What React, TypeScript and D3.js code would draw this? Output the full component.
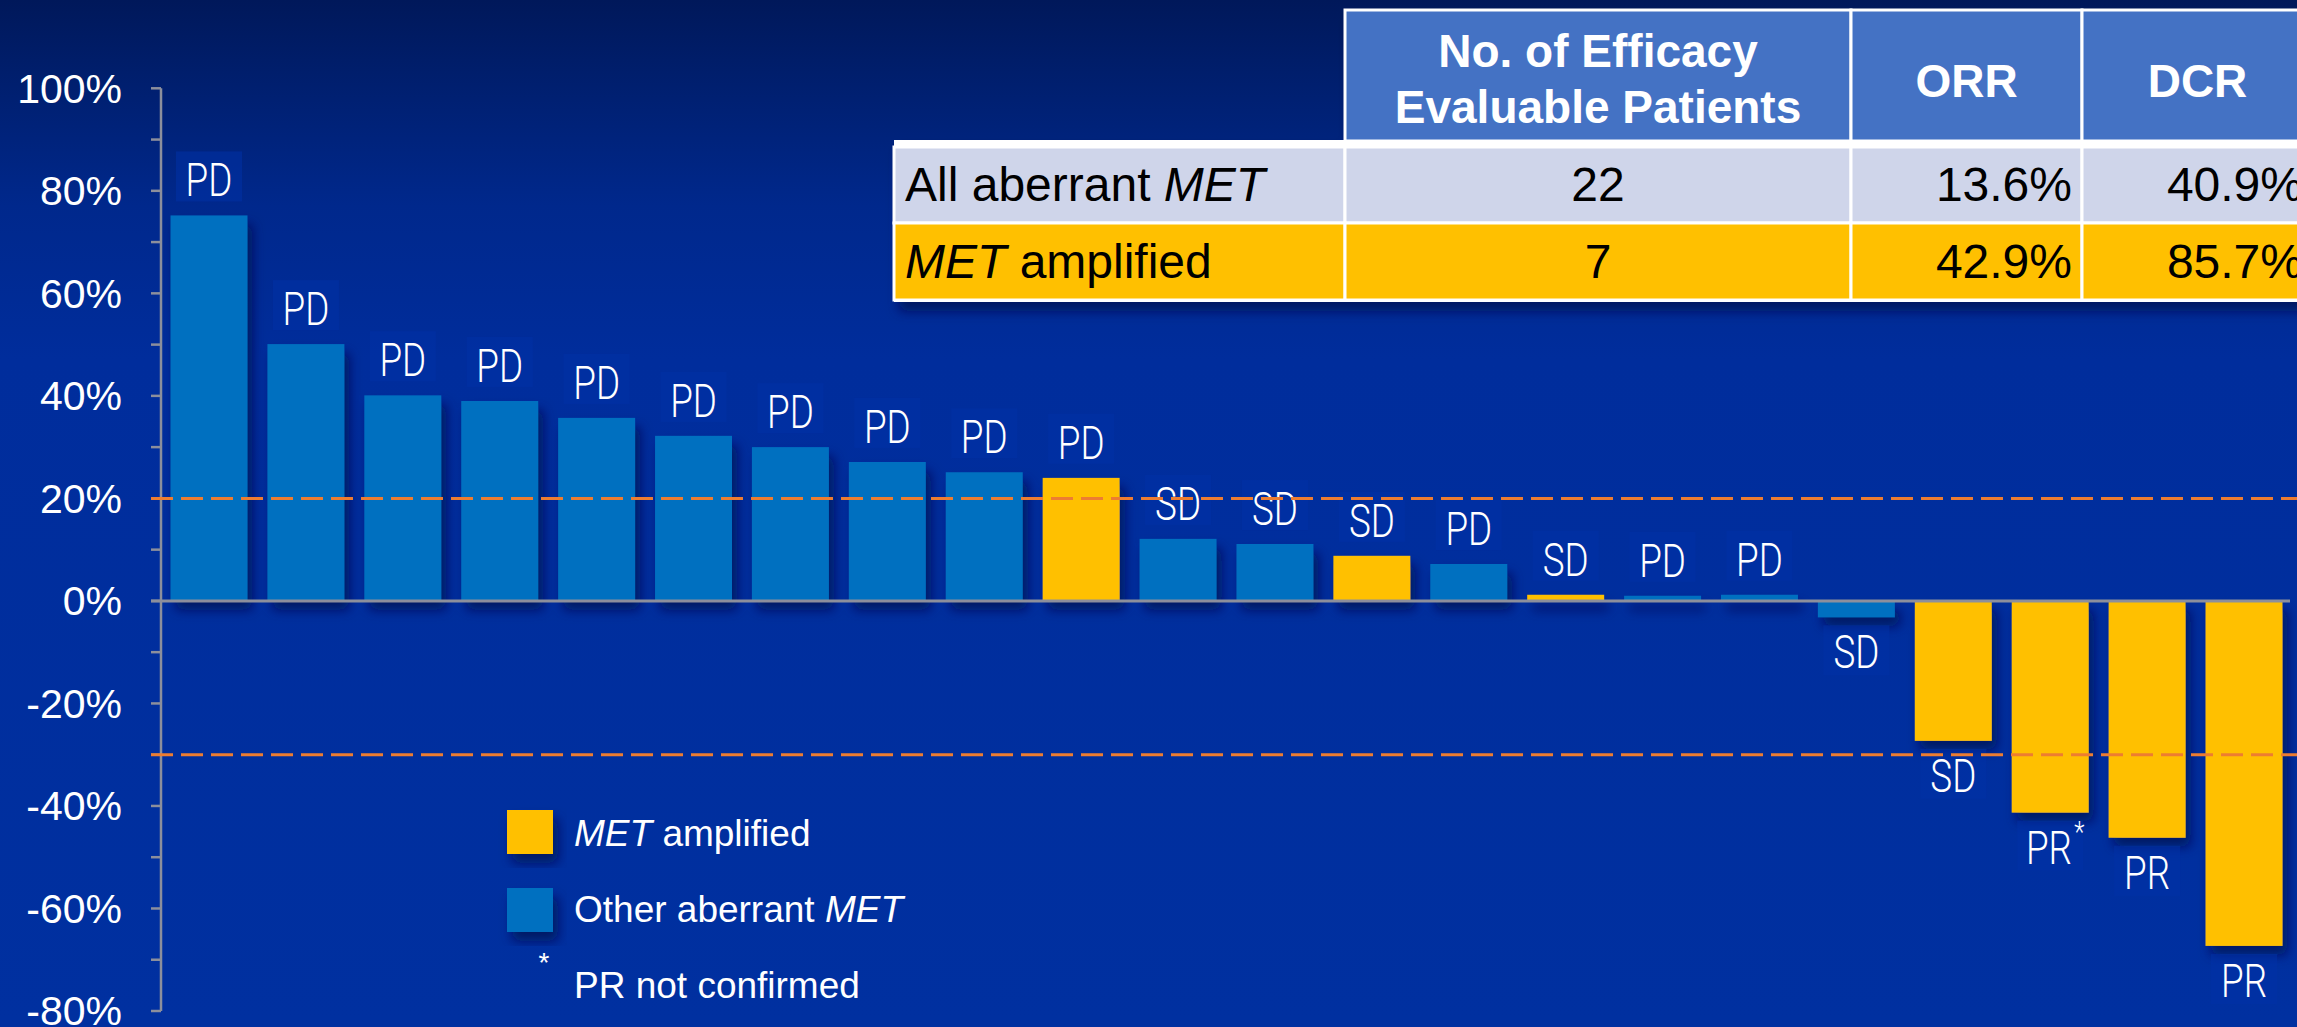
import React, { useEffect, useRef } from 'react';
import * as d3 from 'd3';

// best % change from baseline, one bar per patient
const responses = ['PD', 'PD', 'PD', 'PD', 'PD', 'PD', 'PD', 'PD', 'PD', 'PD', 'SD', 'SD', 'SD', 'PD', 'SD', 'PD', 'PD', 'SD', 'SD', 'PR', 'PR', 'PR'];
const changes = [75.2, 50.1, 40.1, 39, 35.7, 32.2, 30, 27.1, 25.1, 24, 12.1, 11.1, 8.8, 7.2, 1.2, 1, 1.2, -3.2, -27.3, -41.3, -46.2, -67.3];
const metAmplified = [0, 0, 0, 0, 0, 0, 0, 0, 0, 1, 0, 0, 1, 0, 1, 0, 0, 0, 1, 1, 1, 1];
const prUnconfirmed = [0, 0, 0, 0, 0, 0, 0, 0, 0, 0, 0, 0, 0, 0, 0, 0, 0, 0, 0, 1, 0, 0];
const yTicks = [-80, -60, -40, -20, 0, 20, 40, 60, 80, 100];
const thresholds = [20, -30];

// summary table
const tableHeaders = ['', 'No. of Efficacy|Evaluable Patients', 'ORR', 'DCR'];
const tableRowLabels = ['All aberrant MET', 'MET amplified'];
const tablePatients = [22, 7];
const tableORR = [13.6, 42.9];
const tableDCR = [40.9, 85.7];

const legendLabels = ['MET amplified', 'Other aberrant MET'];
const footnote = 'PR not confirmed';

const W = 2297;
const H = 1027;
const BLUE = '#0070C0';
const GOLD = '#FFC000';

// write text with every "MET" in italics
function addRich(sel, str) {
  str.split(/(MET)/).filter((s) => s.length).forEach((part) => {
    sel.append('tspan').attr('font-style', part === 'MET' ? 'italic' : 'normal').text(part);
  });
}

export default function App() {
  const svgRef = useRef(null);

  useEffect(() => {
    document.body.style.margin = '0';
    document.body.style.overflow = 'hidden';

    const svg = d3.select(svgRef.current);
    svg.selectAll('*').remove();

    const defs = svg.append('defs');
    const grad = defs.append('linearGradient').attr('id', 'bg').attr('x1', 0).attr('y1', 0).attr('x2', 0).attr('y2', 1);
    [
      [0, '#00185a'],
      [0.07, '#001e6c'],
      [0.2, '#00288c'],
      [0.35, '#002d9c'],
      [1, '#0030a0'],
    ].forEach(([o, c]) => grad.append('stop').attr('offset', o).attr('stop-color', c));

    const shadow = defs.append('filter').attr('id', 'shadow').attr('x', '-20%').attr('y', '-20%').attr('width', '150%').attr('height', '150%');
    shadow.append('feDropShadow').attr('dx', 5).attr('dy', 9).attr('stdDeviation', 6)
      .attr('flood-color', '#001050').attr('flood-opacity', 0.75);

    svg.append('rect').attr('width', W).attr('height', H).attr('fill', 'url(#bg)');

    const x = d3.scaleBand().domain(d3.range(changes.length)).range([162, 2291]).paddingInner(0.206).paddingOuter(0.088);
    const y = d3.scaleLinear().domain([-80, 100]).range([1011, 88.3]);

    // y axis
    const axisX = 161;
    const axis = svg.append('g').attr('stroke', '#8c8f9c').attr('stroke-width', 2.5);
    axis.append('line').attr('x1', axisX).attr('x2', axisX).attr('y1', y(100)).attr('y2', y(-80));
    axis.selectAll('.tick').data(d3.range(-80, 101, 10)).join('line')
      .attr('x1', axisX - 10).attr('x2', axisX).attr('y1', (d) => y(d)).attr('y2', (d) => y(d));

    svg.append('g').attr('font-family', 'Liberation Sans, Arial, sans-serif').attr('font-size', 41)
      .attr('fill', '#fff').attr('text-anchor', 'end')
      .selectAll('text').data(yTicks).join('text')
      .attr('x', 122).attr('y', (d) => y(d)).attr('dy', '0.35em')
      .text((d) => `${d}%`);

    // bars
    svg.append('g').attr('filter', 'url(#shadow)')
      .selectAll('rect').data(changes).join('rect')
      .attr('x', (d, i) => x(i))
      .attr('width', x.bandwidth())
      .attr('y', (d) => y(Math.max(0, d)))
      .attr('height', (d) => Math.abs(y(d) - y(0)))
      .attr('fill', (d, i) => (metAmplified[i] ? GOLD : BLUE));

    // zero line
    svg.append('line').attr('x1', axisX - 10).attr('x2', 2290).attr('y1', y(0)).attr('y2', y(0))
      .attr('stroke', '#8c8f9c').attr('stroke-width', 3);

    // response labels
    const lab = svg.append('g').attr('font-family', 'Roboto, Liberation Sans, sans-serif').attr('font-weight', 300)
      .attr('font-size', 46).attr('fill', '#fff').attr('text-anchor', 'middle');
    lab.selectAll('rect').data(changes).join('rect')
      .attr('x', (d, i) => x(i) + x.bandwidth() / 2 - 33)
      .attr('y', (d) => (d >= 0 ? y(d) - 64 : y(d) + 8))
      .attr('width', 66).attr('height', 50)
      .attr('fill', '#0032a6').attr('opacity', 0.55);

    // threshold lines
    svg.append('g').selectAll('line').data(thresholds).join('line')
      .attr('x1', axisX - 10).attr('x2', W).attr('y1', (d) => y(d)).attr('y2', (d) => y(d))
      .attr('stroke', '#ED7D31').attr('stroke-width', 3).attr('stroke-dasharray', '22 8');

    const txt = lab.selectAll('text').data(changes).join('text')
      .attr('transform', (d, i) => `translate(${x(i) + x.bandwidth() / 2 + (prUnconfirmed[i] ? 5 : 0)},${d >= 0 ? y(d) - 19 : y(d) + 51}) scale(0.8,1)`);
    txt.append('tspan').text((d, i) => responses[i]);
    txt.filter((d, i) => prUnconfirmed[i]).append('tspan')
      .attr('font-size', 30).attr('dy', -22).attr('dx', 3).text('*');

    // table
    const colX = [894, 1345, 1851, 2082, 2313];
    const headTop = 10;
    const headBot = 141;
    const rowTop = [147, 223];
    const rowBot = [223, 300];
    const rowFill = ['#CFD5EA', GOLD];
    const tbl = svg.append('g');
    const tblShadow = tbl.append('g').attr('filter', 'url(#shadow)');
    tblShadow.append('rect').attr('x', colX[1]).attr('y', headTop).attr('width', colX[4] - colX[1]).attr('height', headBot - headTop).attr('fill', '#4472C4');
    tblShadow.append('rect').attr('x', colX[0]).attr('y', headBot).attr('width', colX[4] - colX[0]).attr('height', rowBot[1] - headBot + 2).attr('fill', '#fff');

    tableHeaders.forEach((h, c) => {
      if (!h) return;
      tbl.append('rect').attr('x', colX[c]).attr('y', headTop).attr('width', colX[c + 1] - colX[c]).attr('height', headBot - headTop)
        .attr('fill', '#4472C4').attr('stroke', '#fff').attr('stroke-width', 3);
      const lines = h.split('|');
      const cx = (colX[c] + colX[c + 1]) / 2;
      const t = tbl.append('text').attr('x', cx).attr('text-anchor', 'middle')
        .attr('font-family', 'Liberation Sans, Arial, sans-serif').attr('font-weight', 'bold')
        .attr('font-size', 46).attr('fill', '#fff');
      if (lines.length === 1) {
        t.attr('y', 97).text(lines[0]);
      } else {
        lines.forEach((l, k) => t.append('tspan').attr('x', cx).attr('y', 67 + k * 56).text(l));
      }
    });
    tbl.append('rect').attr('x', colX[0]).attr('y', headBot - 1).attr('width', colX[4] - colX[0]).attr('height', 7).attr('fill', '#fff');

    tableRowLabels.forEach((label, r) => {
      for (let c = 0; c < 4; c++) {
        tbl.append('rect').attr('x', colX[c]).attr('y', rowTop[r]).attr('width', colX[c + 1] - colX[c]).attr('height', rowBot[r] - rowTop[r])
          .attr('fill', rowFill[r]).attr('stroke', '#fff').attr('stroke-width', 3);
      }
      const base = rowBot[r] - 22;
      const g = tbl.append('g').attr('font-family', 'Liberation Sans, Arial, sans-serif').attr('font-size', 48).attr('fill', '#000');
      addRich(g.append('text').attr('x', colX[0] + 11).attr('y', base), label);
      g.append('text').attr('x', (colX[1] + colX[2]) / 2).attr('y', base).attr('text-anchor', 'middle').text(tablePatients[r]);
      g.append('text').attr('x', colX[3] - 10).attr('y', base).attr('text-anchor', 'end').text(`${tableORR[r].toFixed(1)}%`);
      g.append('text').attr('x', colX[4] - 10).attr('y', base).attr('text-anchor', 'end').text(`${tableDCR[r].toFixed(1)}%`);
    });

    // legend
    const leg = svg.append('g').attr('font-family', 'Liberation Sans, Arial, sans-serif').attr('font-size', 37).attr('fill', '#fff');
    legendLabels.forEach((l, k) => {
      leg.append('rect').attr('x', 507).attr('y', 810 + k * 78).attr('width', 46).attr('height', 44)
        .attr('fill', k === 0 ? GOLD : BLUE).attr('filter', 'url(#shadow)');
      addRich(leg.append('text').attr('x', 574).attr('y', 846 + k * 76), l);
    });
    leg.append('text').attr('x', 544).attr('y', 972).attr('text-anchor', 'middle').attr('font-size', 28).text('*');
    leg.append('text').attr('x', 574).attr('y', 998).text(footnote);
  }, []);

  return (
    <div>
      <svg ref={svgRef} width={W} height={H} style={{ display: 'block' }} />
    </div>
  );
}
